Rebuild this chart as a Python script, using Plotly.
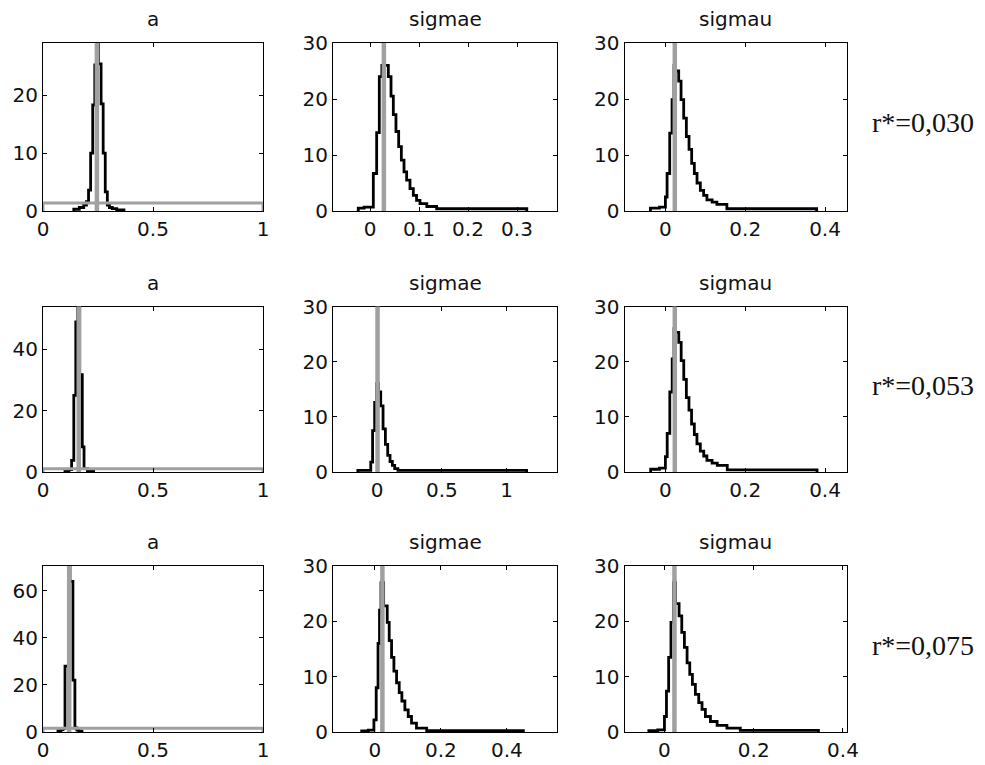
import plotly.graph_objects as go

# ---------------- data ----------------
# Each panel: histogram bin edges, bin heights (posterior density), gray marker value
a1_edges = [0.140, 0.165, 0.185, 0.1975, 0.207, 0.2165, 0.226, 0.2355, 0.2445, 0.2515,
            0.264, 0.2735, 0.283, 0.2925, 0.302, 0.315, 0.335, 0.368]
a1_dens = [0.3, 0.6, 1.0, 1.6, 3.6, 10, 18.3, 25.2, 28.9, 25.4, 18.5, 10, 3.3, 1.0, 0.6, 0.4, 0.2]
a1_true = 0.245
a1_prior = 1.4

se1_edges = [-0.024, -0.012, 0.0068, 0.0136, 0.019, 0.0242, 0.0322, 0.0374, 0.0429, 0.0476,
             0.053, 0.0585, 0.064, 0.0694, 0.0748, 0.0816, 0.0884, 0.095, 0.102, 0.116,
             0.136, 0.32]
se1_dens = [0.5, 0.7, 6.7, 14, 24, 26, 26, 24, 20.5, 17.2, 14.2, 11.5, 9.1, 7.0, 5.5, 4.0,
            2.8, 1.9, 1.3, 0.8, 0.4]
se1_true = 0.0283

su1_edges = [-0.0375, -0.015, 0.0, 0.0042, 0.0108, 0.0167, 0.0215, 0.0255, 0.0333, 0.0392,
             0.0458, 0.0525, 0.0592, 0.0658, 0.0725, 0.0792, 0.0875, 0.0958, 0.104, 0.117,
             0.129, 0.154, 0.379]
su1_dens = [0.5, 0.7, 2.5, 6.7, 13.9, 19.9, 26, 25, 23.2, 19.9, 16.6, 13.3, 11, 8.5, 6.7,
            5.0, 3.7, 2.8, 2.0, 1.6, 1.2, 0.4]
su1_true = 0.0235

a2_edges = [0.10, 0.118, 0.130, 0.140, 0.149, 0.158, 0.167, 0.1785, 0.1865, 0.202, 0.23]
a2_dens = [0.4, 0.8, 3.8, 25, 49, 54, 31.8, 8.2, 1.1, 0.3]
a2_true = 0.1625
a2_prior = 1.1

se2_edges = [-0.15, -0.05, -0.036, -0.020, -0.004, 0.010, 0.027, 0.045, 0.063, 0.081,
             0.099, 0.117, 0.135, 0.16, 1.155]
se2_dens = [0.3, 1.8, 7.5, 12.6, 16, 14.5, 12, 7.8, 5.0, 3.0, 1.9, 1.2, 0.6, 0.3]
se2_true = 0.0025

su2_edges = [-0.037, -0.015, 0.0, 0.0045, 0.011, 0.017, 0.0215, 0.0255, 0.0335, 0.0395,
             0.046, 0.0525, 0.059, 0.0655, 0.0725, 0.079, 0.0875, 0.096, 0.104, 0.117,
             0.13, 0.155, 0.38]
su2_dens = [0.5, 0.7, 2.8, 7.0, 14.5, 20.5, 26, 25.3, 23.5, 20.2, 16.8, 13.5, 11.2, 8.7,
            6.8, 5.1, 3.8, 2.9, 2.1, 1.6, 1.2, 0.4]
su2_true = 0.0235

a3_edges = [0.068, 0.082, 0.091, 0.100, 0.1155, 0.1225, 0.136, 0.145, 0.154, 0.163, 0.177]
a3_dens = [0.6, 1.0, 1.4, 28, 70, 64, 22, 1.7, 0.8, 0.4]
a3_true = 0.119
a3_prior = 1.6

se3_edges = [-0.040, -0.020, -0.003, 0.004, 0.0095, 0.014, 0.0185, 0.0265, 0.0374, 0.0434,
             0.0505, 0.0576, 0.0657, 0.0737, 0.0818, 0.0909, 0.101, 0.111, 0.126, 0.157, 0.45]
se3_dens = [0.2, 0.35, 2.2, 8, 16, 22, 27, 22.8, 19.8, 16.5, 13.5, 11, 8.9, 7.1, 5.6, 4.0,
            2.8, 1.6, 0.7, 0.25]
se3_true = 0.0227

su3_edges = [-0.035, -0.015, 0.0, 0.0045, 0.0094, 0.0146, 0.0200, 0.0250, 0.0328, 0.0388,
             0.0447, 0.0507, 0.0567, 0.0626, 0.0693, 0.0768, 0.0842, 0.0917, 0.103, 0.118,
             0.140, 0.170, 0.345]
su3_dens = [0.25, 0.4, 2.8, 7.4, 13.5, 19.8, 27, 23.2, 21, 18, 15.3, 12.5, 10.4, 8.6, 6.8,
            5.3, 4.1, 2.8, 1.9, 1.2, 0.7, 0.3]
su3_true = 0.0224

titles = ["a", "sigmae", "sigmau"]
row_labels = ["r*=0,030", "r*=0,053", "r*=0,075"]

x_ranges = [[0, 1], [-0.0755, 0.3816], [-0.1025, 0.455],
            [0, 1], [-0.342, 1.39], [-0.1025, 0.455],
            [0, 1], [-0.127, 0.552], [-0.0895, 0.409]]
y_ranges = [[0, 29], [0, 30], [0, 30],
            [0, 54], [0, 30], [0, 30],
            [0, 70.5], [0, 30], [0, 30]]
x_ticks = [[0, 0.5, 1], [0, 0.1, 0.2, 0.3], [0, 0.2, 0.4],
           [0, 0.5, 1], [0, 0.5, 1], [0, 0.2, 0.4],
           [0, 0.5, 1], [0, 0.2, 0.4], [0, 0.2, 0.4]]
y_ticks = [[0, 10, 20], [0, 10, 20, 30], [0, 10, 20, 30],
           [0, 20, 40], [0, 10, 20, 30], [0, 10, 20, 30],
           [0, 20, 40, 60], [0, 10, 20, 30], [0, 10, 20, 30]]

panels = [
    (a1_edges, a1_dens, a1_true, a1_prior),
    (se1_edges, se1_dens, se1_true, None),
    (su1_edges, su1_dens, su1_true, None),
    (a2_edges, a2_dens, a2_true, a2_prior),
    (se2_edges, se2_dens, se2_true, None),
    (su2_edges, su2_dens, su2_true, None),
    (a3_edges, a3_dens, a3_true, a3_prior),
    (se3_edges, se3_dens, se3_true, None),
    (su3_edges, su3_dens, su3_true, None),
]

# ---------------- layout geometry (pixels) ----------------
W, H = 985, 765
col_px = [(43, 263), (333, 557), (624.5, 847)]
row_px = [(43, 211), (306.5, 472), (566, 732)]

BLACK = "#000000"
GRAY = "#a0a0a0"
FONT = "DejaVu Sans"
TXT = "#111111"

fig = go.Figure()
layout = dict(template="none", width=W, height=H, margin=dict(l=0, r=0, t=0, b=0, pad=0),
              paper_bgcolor="white", plot_bgcolor="white", showlegend=False)
shapes = []
annotations = []

for i, (edges, dens, true_v, prior) in enumerate(panels):
    r, c = divmod(i, 3)
    k = i + 1
    xa = "x" if k == 1 else f"x{k}"
    ya = "y" if k == 1 else f"y{k}"
    xkey = "xaxis" if k == 1 else f"xaxis{k}"
    ykey = "yaxis" if k == 1 else f"yaxis{k}"
    x0p, x1p = col_px[c]
    y0p, y1p = row_px[r]
    common = dict(ticks="inside", ticklen=4, tickcolor=BLACK, tickwidth=1,
                  showline=True, linecolor=BLACK, linewidth=1, mirror="ticks",
                  showgrid=False, zeroline=False, automargin=False, fixedrange=True,
                  tickfont=dict(family=FONT, size=20, color=TXT))
    layout[xkey] = dict(domain=[x0p / W, x1p / W], anchor=ya, range=x_ranges[i],
                        tickvals=x_ticks[i], ticktext=[f"{v:g}" for v in x_ticks[i]],
                        **common)
    layout[ykey] = dict(domain=[1 - y1p / H, 1 - y0p / H], anchor=xa, range=y_ranges[i],
                        tickvals=y_ticks[i], **common)

    # stairs outline of the histogram
    xs = [edges[0]] + edges[:-1] + [edges[-1]]
    ys = [0] + list(dens) + [0]
    fig.add_trace(go.Scatter(x=xs, y=ys, mode="lines", line=dict(color=BLACK, width=2.8, shape="hv"),
                             xaxis=xa, yaxis=ya, hoverinfo="skip"))
    if prior is not None:
        rx = x_ranges[i]
        fig.add_trace(go.Scatter(x=[rx[0], rx[0], rx[1], rx[1]], y=[0, prior, prior, 0], mode="lines",
                                 line=dict(color=GRAY, width=3), xaxis=xa, yaxis=ya, hoverinfo="skip"))
    shapes.append(dict(type="line", xref=xa, yref=f"{ya} domain", x0=true_v, x1=true_v, y0=0, y1=1,
                       line=dict(color=GRAY, width=4.5), layer="above"))

    annotations.append(dict(text=titles[c], xref="paper", yref="paper",
                            x=(x0p + x1p) / 2 / W, y=1 - (y0p - 24) / H,
                            xanchor="center", yanchor="middle", showarrow=False,
                            font=dict(family=FONT, size=20, color=TXT)))

for r in range(3):
    y0p, y1p = row_px[r]
    annotations.append(dict(text=row_labels[r], xref="paper", yref="paper",
                            x=870 / W, y=1 - ((y0p + y1p) / 2 - 4) / H,
                            xanchor="left", yanchor="middle", showarrow=False,
                            font=dict(family="Liberation Serif", size=28, color=TXT)))

layout["shapes"] = shapes
layout["annotations"] = annotations
fig.update_layout(**layout)
fig.write_html("out.html")
